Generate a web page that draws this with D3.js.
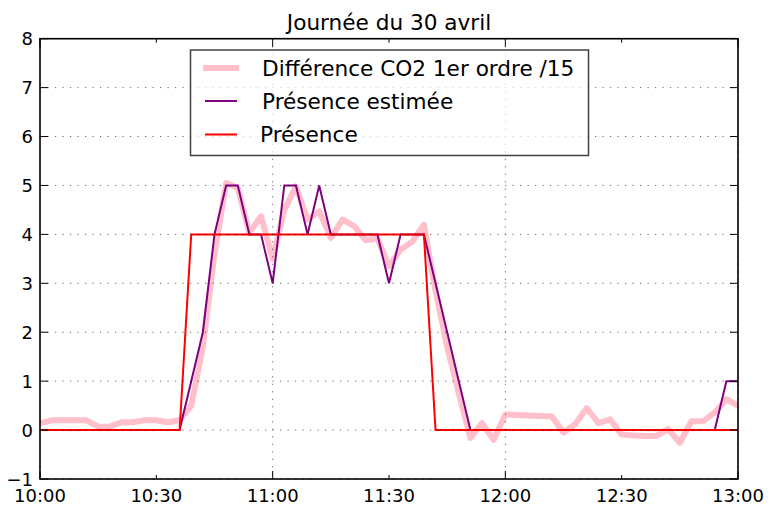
<!DOCTYPE html>
<html><head><meta charset="utf-8">
<script src="https://cdn.jsdelivr.net/npm/d3@7"></script>
<style>body{margin:0;background:#fff}svg{display:block;font-family:"DejaVu Sans",sans-serif}</style>
</head><body><svg id="c" width="768" height="506"></svg>
<script>
const times = ["10:00","10:03","10:06","10:09","10:12","10:15","10:18","10:21","10:24","10:27",
"10:30","10:33","10:36","10:39","10:42","10:45","10:48","10:51","10:54","10:57",
"11:00","11:03","11:06","11:09","11:12","11:15","11:18","11:21","11:24","11:27",
"11:30","11:33","11:36","11:39","11:42","11:45","11:48","11:51","11:54","11:57",
"12:00","12:03","12:06","12:09","12:12","12:15","12:18","12:21","12:24","12:27",
"12:30","12:33","12:36","12:39","12:42","12:45","12:48","12:51","12:54","12:57","13:00"];
const co2Diff = [0.14,0.2,0.2,0.2,0.2,0.07,0.07,0.16,0.16,0.2,
0.2,0.16,0.2,0.5,1.7,3.6,5.05,4.95,4.03,4.37,
3.5,4.5,4.98,4.3,4.47,3.93,4.3,4.17,3.88,3.92,
3.35,3.69,3.85,4.2,2.85,1.7,0.75,-0.16,0.14,-0.2,
0.32,0.31,0.3,0.29,0.28,-0.05,0.12,0.45,0.14,0.22,
-0.09,-0.11,-0.12,-0.12,0.02,-0.26,0.18,0.18,0.36,0.63,0.5];
const presenceEstimee = [0,0,0,0,0,0,0,0,0,0,
0,0,0,1,2,4,5,5,4,4,
3,5,5,4,5,4,4,4,4,4,
3,4,4,4,3,2,1,0,0,0,
0,0,0,0,0,0,0,0,0,0,
0,0,0,0,0,0,0,0,0,1,1];
const presence = [0,0,0,0,0,0,0,0,0,0,
0,0,0,4,4,4,4,4,4,4,
4,4,4,4,4,4,4,4,4,4,
4,4,4,4,0,0,0,0,0,0,
0,0,0,0,0,0,0,0,0,0,
0,0,0,0,0,0,0,0,0,0,0];
const xTickLabels = ["10:00","10:30","11:00","11:30","12:00","12:30","13:00"];
const xMajor = ["10:00","11:00","12:00","13:00"];
const yTicks = [-1,0,1,2,3,4,5,6,7,8];
const seriesNames = ["Différence CO2 1er ordre /15","Présence estimée","Présence"];
const title = "Journée du 30 avril";

const parse = d3.timeParse("%H:%M");
const L=40,R=738,T=38.7,B=479;
const x = d3.scaleTime().domain([parse("10:00"),parse("13:00")]).range([L,R]);
const y = d3.scaleLinear().domain([-1,8]).range([B,T]);
const svg = d3.select("#c");

const line = vals => d3.line().x((d,i)=>x(parse(times[i]))).y(d=>y(d))(vals);
const plot = svg.append("g");
const defs = svg.append("defs");
defs.append("clipPath").attr("id","clip").append("rect").attr("x",L).attr("y",T).attr("width",R-L).attr("height",B-T);
const pg = plot.append("g").attr("clip-path","url(#clip)");
pg.append("path").attr("d",line(co2Diff)).attr("fill","none").attr("stroke","#FFC0CB").attr("stroke-width",6).attr("stroke-linejoin","round");
pg.append("path").attr("d",line(presenceEstimee)).attr("fill","none").attr("stroke","#800080").attr("stroke-width",2);
pg.append("path").attr("d",line(presence)).attr("fill","none").attr("stroke","#FF0000").attr("stroke-width",2);

// grid (drawn above lines)
const grid = svg.append("g").attr("stroke","#000").attr("stroke-width",0.8).attr("stroke-dasharray","1.2,6.3").attr("opacity",0.75);
yTicks.forEach(v=>grid.append("line").attr("x1",L).attr("x2",R).attr("y1",y(v)).attr("y2",y(v)));
xMajor.forEach(t=>grid.append("line").attr("x1",x(parse(t))).attr("x2",x(parse(t))).attr("y1",T).attr("y2",B));

// ticks
const tk = svg.append("g").attr("stroke","#000").attr("stroke-width",1);
xTickLabels.forEach(t=>{
  const xx=x(parse(t)); const len = xMajor.includes(t)?8:4;
  tk.append("line").attr("x1",xx).attr("x2",xx).attr("y1",B).attr("y2",B-len);
  tk.append("line").attr("x1",xx).attr("x2",xx).attr("y1",T).attr("y2",T+len);
});
yTicks.forEach(v=>{
  tk.append("line").attr("x1",L).attr("x2",L+8).attr("y1",y(v)).attr("y2",y(v));
  tk.append("line").attr("x1",R).attr("x2",R-8).attr("y1",y(v)).attr("y2",y(v));
});
// frame
svg.append("rect").attr("x",L).attr("y",T).attr("width",R-L).attr("height",B-T).attr("fill","none").attr("stroke","#000").attr("stroke-width",1.6);

// labels
const labs = svg.append("g").attr("font-size",18).attr("fill","#000");
xTickLabels.forEach(t=>labs.append("text").attr("x",x(parse(t))).attr("y",502).attr("text-anchor","middle").text(t));
yTicks.forEach(v=>labs.append("text").attr("x",33).attr("y",y(v)+6.6).attr("text-anchor","end").text(v<0?"\u2212"+Math.abs(v):v));

svg.append("text").attr("x",(L+R)/2).attr("y",30).attr("text-anchor","middle").attr("font-size",21.6).text(title);

// legend
const lg = svg.append("g");
lg.append("rect").attr("x",190.5).attr("y",50).attr("width",398).attr("height",105.5).attr("fill","#fff").attr("fill-opacity",0.7).attr("stroke","#000").attr("stroke-opacity",0.75).attr("stroke-width",1.5);
const legendStyle = [{c:"#FFC0CB",w:6,ly:68,tx:262,x1:203,x2:239},{c:"#800080",w:2,ly:101,tx:262,x1:205,x2:237},{c:"#FF0000",w:2,ly:134.5,tx:260,x1:205,x2:237}];
seriesNames.forEach((n,i)=>{
  const s=legendStyle[i];
  lg.append("line").attr("x1",s.x1).attr("x2",s.x2).attr("y1",s.ly).attr("y2",s.ly).attr("stroke",s.c).attr("stroke-width",s.w);
  lg.append("text").attr("x",s.tx).attr("y",s.ly+7.5).attr("font-size",21.6).text(n);
});
</script></body></html>
